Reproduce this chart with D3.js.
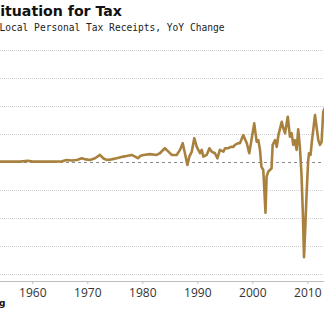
<!DOCTYPE html>
<html>
<head>
<meta charset="utf-8">
<script src="https://cdn.jsdelivr.net/npm/d3@7"></script>
<style>
  body { margin: 0; background: #fff; }
  svg { display: block; }
</style>
</head>
<body>
<div id="chart"></div>
<script>
var width = 324,
  height = 326;

// decimal year of each reading
var years = [1954.0, 1957.75, 1959.2, 1960.1, 1963.2, 1965.4, 1966.25, 1967.2, 1968.1, 1969.0,
  1969.75, 1970.5, 1971.4, 1972.3, 1972.9, 1973.5, 1974.4, 1975.35, 1976.55, 1977.15,
  1978.05, 1978.7, 1979.25, 1979.6, 1980.2, 1981.4, 1982.6, 1983.2, 1984.1, 1984.75,
  1985.35, 1986.25, 1986.85, 1987.35, 1987.75, 1988.2, 1988.55, 1989.0, 1989.45, 1989.9,
  1990.5, 1990.8, 1991.1, 1991.7, 1992.2, 1992.6, 1993.2, 1993.65, 1994.1, 1994.75,
  1995.05, 1995.65, 1996.1, 1996.55, 1996.85, 1997.45, 1997.75, 1998.35, 1999.0, 1999.45,
  2000.35, 2000.8, 2001.1, 2001.4, 2001.65, 2002.0, 2002.4, 2002.6, 2002.9, 2003.2,
  2003.5, 2003.7, 2004.15, 2004.45, 2004.75, 2005.35, 2005.65, 2005.95, 2006.45, 2006.85,
  2007.15, 2007.45, 2007.75, 2008.05, 2008.35, 2008.65, 2008.95, 2009.2, 2009.4, 2009.65,
  2009.9, 2010.15, 2010.3, 2010.6, 2010.8, 2011.4, 2012.0, 2012.3, 2012.6, 2012.9, 2013.4];

// YoY change, percent
var yoy = [0.1, 0.1, 0.4, 0.1, 0.1, 0.2, 0.7, 0.5, 0.7, 1.3,
  0.9, 0.7, 1.3, 2.5, 1.3, 0.7, 0.9, 1.3, 1.9, 2.1,
  2.5, 1.9, 1.3, 2.1, 2.5, 2.8, 2.5, 3.1, 4.9, 3.7,
  2.5, 2.5, 4.3, 6.7, 3.1, -1.1, 1.9, 3.7, 8.5, 5.4,
  3.1, 4.3, 1.9, 2.5, 4.9, 3.7, 3.1, 1.3, 4.3, 3.7,
  4.9, 4.9, 5.4, 5.4, 6.1, 6.7, 6.7, 9.6, 6.7, 3.1,
  13.8, 7.2, 7.8, 4.3, -1.7, -2.9, -18.2, -5.3, -3.5, -2.9,
  -2.3, 6.1, 7.8, 5.4, 9.6, 14.4, 12.0, 10.3, 16.2, 9.0,
  10.3, 6.1, 7.8, 4.3, 11.7, 5.4, -4.7, -19.0, -34.2, -22.6,
  -10.1, 0.0, 3.1, 2.5, 6.7, 16.8, 7.8, 6.1, 7.2, 18.0, 20.4];

var gridTicks = [-40, -30, -20, -10, 0, 10, 20, 30, 40];
var yearTicks = [1960, 1970, 1980, 1990, 2000, 2010];

var data = years.map(function(d, i) { return { year: d, value: yoy[i] }; });

var x = d3.scaleLinear().domain([1960, 2010]).range([32.3, 307.3]);
var y = d3.scaleLinear().domain([-40, 40]).range([273.5, 50.3]);

var svg = d3.select("#chart").append("svg")
  .attr("width", width)
  .attr("height", height);

//Title and subtitle (cropped at the left edge, as in the source)
svg.append("text")
  .attr("x", -10)
  .attr("y", 15.5)
  .attr("textLength", 132)
  .attr("lengthAdjust", "spacingAndGlyphs")
  .style("font-family", "'DejaVu Sans', Verdana, sans-serif")
  .style("font-weight", "bold")
  .style("font-size", "14px")
  .style("fill", "#111")
  .text("Situation for Tax");

svg.append("text")
  .attr("x", -0.5)
  .attr("y", 30.5)
  .attr("textLength", 225)
  .attr("lengthAdjust", "spacingAndGlyphs")
  .style("font-family", "'DejaVu Sans Mono', monospace")
  .style("font-size", "11px")
  .style("fill", "#222")
  .text("Local Personal Tax Receipts, YoY Change");

//Gridlines
svg.append("g")
  .selectAll("line")
  .data(gridTicks)
  .enter().append("line")
  .attr("x1", 0)
  .attr("x2", width)
  .attr("y1", function(d) { return Math.round(y(d)) + 0.5; })
  .attr("y2", function(d) { return Math.round(y(d)) + 0.5; })
  .attr("stroke", function(d) { return d === 0 ? "#8a8a8a" : "#d0d0d0"; })
  .attr("stroke-width", 1)
  .attr("stroke-dasharray", function(d) { return d === 0 ? "3,3" : "1,1"; });

//X axis
var xAxis = svg.append("g")
  .attr("transform", "translate(0,281)")
  .call(d3.axisBottom(x).tickValues(yearTicks).tickFormat(d3.format("d")).tickSize(3).tickSizeOuter(0));

xAxis.select(".domain").remove();
xAxis.append("line")
  .attr("x1", 0).attr("x2", width)
  .attr("y1", 0.5).attr("y2", 0.5)
  .attr("stroke", "#bdbdbd");
xAxis.selectAll(".tick line").attr("stroke", "#bdbdbd");
xAxis.selectAll(".tick text")
  .attr("y", 7)
  .style("font-family", "'Open Sans', 'Liberation Sans', sans-serif")
  .style("font-size", "12px")
  .style("fill", "#333");

//Line
var line = d3.line()
  .x(function(d) { return x(d.year); })
  .y(function(d) { return y(d.value); });

svg.append("path")
  .datum(data)
  .attr("d", line)
  .attr("fill", "none")
  .attr("stroke", "#a9813f")
  .attr("stroke-width", 2.6)
  .attr("stroke-linejoin", "round");

//Source (cropped)
svg.append("text")
  .attr("x", 5.5)
  .attr("y", 306)
  .attr("text-anchor", "end")
  .style("font-family", "'DejaVu Sans', Verdana, sans-serif")
  .style("font-weight", "bold")
  .style("font-size", "9px")
  .style("fill", "#111")
  .text("Bloomberg");
</script>
</body>
</html>
